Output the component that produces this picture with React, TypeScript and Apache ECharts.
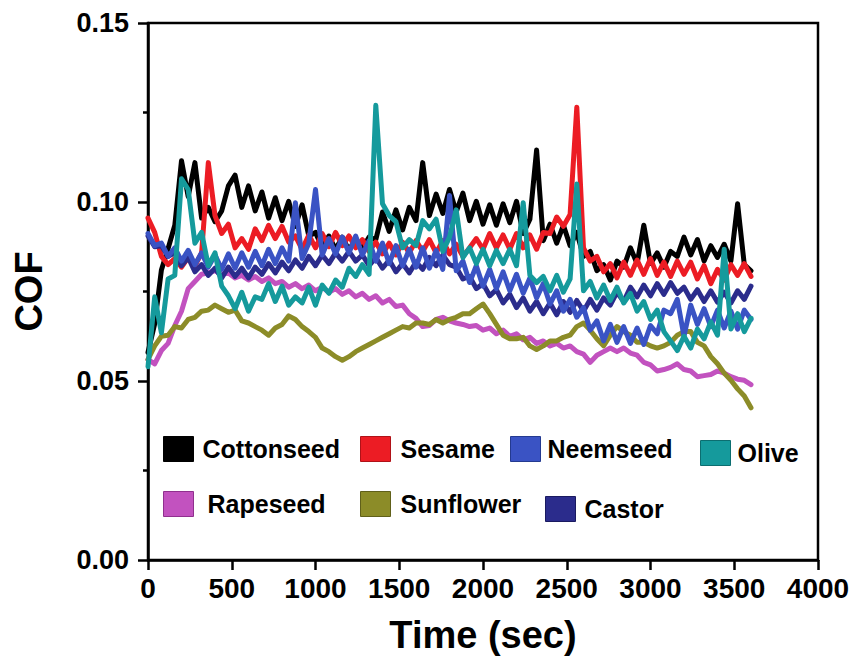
import React, { useEffect, useRef } from "react";
import * as echarts from "echarts";

// time step of the sampled curves (seconds); samples at 0, 40, ..., 3600
const timeStep = 40;

const seriesNames = ["Cottonseed", "Sesame", "Neemseed", "Olive", "Rapeseed", "Sunflower", "Castor"];
const seriesColors = ["#000000", "#ec1c24", "#3a53c4", "#159a9c", "#c252bf", "#8c8c28", "#2b2c8c"];
const seriesBorders = ["#000000", "#b01218", "#243a90", "#0c6e70", "#90308e", "#60601a", "#1a1a60"];

const cottonseed = [
  0.058, 0.066, 0.081, 0.087, 0.0935, 0.1115, 0.1015, 0.111, 0.0955, 0.0985,
  0.0945, 0.0975, 0.1045, 0.1075, 0.0985, 0.1045, 0.0975, 0.1028, 0.0955, 0.1012,
  0.0948, 0.1002, 0.0932, 0.0992, 0.0905, 0.0915, 0.0872, 0.0905, 0.0868, 0.0902,
  0.0865, 0.0898, 0.087, 0.0902, 0.0895, 0.0972, 0.0918, 0.0978, 0.0922, 0.0985,
  0.0948, 0.111, 0.0962, 0.1022, 0.0968, 0.1035, 0.0972, 0.1025, 0.0948, 0.1002,
  0.0938, 0.0992, 0.0935, 0.0995, 0.0942, 0.1002, 0.0912, 0.0952, 0.1145, 0.0892,
  0.0938, 0.0885, 0.0935, 0.0878, 0.0915, 0.0848, 0.0862, 0.0808, 0.0825, 0.0782,
  0.0835, 0.0818, 0.0872, 0.0828, 0.0935, 0.0828, 0.0858, 0.0818, 0.0862, 0.0848,
  0.0902, 0.0852, 0.0895, 0.0835, 0.0878, 0.0845, 0.0882, 0.0835, 0.0995, 0.0825,
  0.0808,
];

const sesame = [
  0.0955, 0.0915, 0.0848, 0.0825, 0.0842, 0.0818, 0.0845, 0.0822, 0.0858, 0.111,
  0.0962, 0.0912, 0.0938, 0.0872, 0.0898, 0.0868, 0.0925, 0.0892, 0.0935, 0.0898,
  0.0932, 0.0888, 0.0905, 0.0868, 0.0908, 0.0872, 0.0912, 0.0875, 0.0915, 0.0878,
  0.0905, 0.0872, 0.0895, 0.0862, 0.0888, 0.0855, 0.0885, 0.0852, 0.0888, 0.0858,
  0.0892, 0.0862, 0.0895, 0.0858, 0.0892, 0.0855, 0.0882, 0.0848, 0.0872, 0.0898,
  0.0868, 0.0912, 0.0872, 0.0908, 0.0868, 0.0912, 0.0872, 0.0908, 0.0868, 0.0915,
  0.0912, 0.0958, 0.0932, 0.0965, 0.1265, 0.0872, 0.0835, 0.0848, 0.0805, 0.0828,
  0.0788, 0.0832, 0.0795, 0.0838, 0.0798, 0.0842, 0.0795, 0.0832, 0.0792, 0.0835,
  0.0798, 0.0832, 0.0785, 0.0822, 0.0772, 0.0812, 0.0782, 0.0825, 0.0795, 0.0828,
  0.0792,
];

const neemseed = [
  0.0912, 0.0878, 0.0885, 0.0848, 0.0872, 0.0835, 0.0865, 0.0825, 0.0858, 0.0818,
  0.0852, 0.0812, 0.0855, 0.0815, 0.0858, 0.0818, 0.0862, 0.0822, 0.0868, 0.0828,
  0.0872, 0.0835, 0.0998, 0.0842, 0.0885, 0.1035, 0.0852, 0.0898, 0.0855, 0.0902,
  0.0858, 0.0905, 0.0852, 0.0892, 0.0835, 0.0885, 0.0828, 0.0878, 0.0822, 0.0868,
  0.0818, 0.0872, 0.0815, 0.0865, 0.0812, 0.1018, 0.0808, 0.0835, 0.0775, 0.0822,
  0.0765, 0.0812, 0.0758, 0.0805, 0.0752, 0.0798, 0.0745, 0.0788, 0.0732, 0.0772,
  0.0715, 0.0752, 0.0695, 0.0728, 0.0678, 0.0705, 0.0642, 0.0668, 0.0612, 0.0658,
  0.0608, 0.0652, 0.0605, 0.0648, 0.0602, 0.0655, 0.0632, 0.0698, 0.0688, 0.0728,
  0.0625, 0.0712, 0.0658, 0.0702, 0.0652, 0.0698, 0.0648, 0.0695, 0.0645, 0.0698,
  0.0672,
];

const olive = [
  0.054, 0.0735, 0.0635, 0.0785, 0.0795, 0.1065, 0.1035, 0.0885, 0.0915, 0.0822,
  0.0858, 0.0765, 0.0738, 0.0702, 0.0748, 0.0695, 0.0735, 0.0728, 0.0772, 0.0722,
  0.0765, 0.0712, 0.0735, 0.0718, 0.0762, 0.0712, 0.0768, 0.0745, 0.0782, 0.0762,
  0.0815, 0.0792, 0.0825, 0.0798, 0.127, 0.0995, 0.0962, 0.0945, 0.0872, 0.0895,
  0.0878, 0.0948, 0.0925, 0.0952, 0.0862, 0.0902, 0.0978, 0.0845, 0.0872, 0.0828,
  0.0868, 0.0822, 0.0865, 0.0828, 0.0868, 0.0822, 0.0998, 0.0795, 0.0775, 0.0792,
  0.0752, 0.0795, 0.0748, 0.0785, 0.105, 0.0752, 0.0778, 0.0732, 0.0768, 0.0725,
  0.0762, 0.0718, 0.0745, 0.0695, 0.0722, 0.0672, 0.0698, 0.0638, 0.0612, 0.0585,
  0.0625, 0.0592, 0.0645, 0.0618, 0.0665, 0.0628, 0.0868, 0.0645, 0.0688, 0.0638,
  0.0675,
];

const rapeseed = [
  0.056, 0.0548, 0.0585, 0.0605, 0.0655, 0.0695, 0.0758, 0.0778, 0.0798, 0.0802,
  0.0808, 0.0798, 0.0802, 0.0788, 0.0795, 0.0782, 0.0792, 0.0778, 0.0788, 0.0772,
  0.0778, 0.0762, 0.0772, 0.0758, 0.0768, 0.0752, 0.0762, 0.0748, 0.0758, 0.0742,
  0.0752, 0.0735, 0.0745, 0.0728, 0.0738, 0.0718, 0.0728, 0.0708, 0.0712, 0.0688,
  0.0675, 0.0652, 0.0655, 0.0672, 0.0678, 0.0668, 0.0662, 0.0658, 0.0652, 0.0655,
  0.0642, 0.0648, 0.0632, 0.0642, 0.0625, 0.0632, 0.0615, 0.0622, 0.0605, 0.0612,
  0.0598, 0.0605, 0.0592, 0.0598, 0.0582, 0.0575, 0.0552, 0.0572, 0.0582, 0.0592,
  0.0582, 0.0592, 0.0578, 0.0572, 0.0552, 0.0545, 0.0528, 0.0532, 0.0538, 0.0548,
  0.0532, 0.0528, 0.0512, 0.0515, 0.0518, 0.0528, 0.0522, 0.0512, 0.0505, 0.0502,
  0.049,
];

const sunflower = [
  0.056, 0.0598, 0.0625, 0.0628, 0.0652, 0.0648, 0.0672, 0.0678, 0.0695, 0.0698,
  0.0712, 0.0702, 0.0692, 0.0698, 0.0668, 0.0662, 0.0652, 0.0642, 0.0628, 0.0648,
  0.0658, 0.0682, 0.0672, 0.0652, 0.0638, 0.0622, 0.0592, 0.0582, 0.0568, 0.0558,
  0.0568, 0.0582, 0.0592, 0.0602, 0.0612, 0.0622, 0.0632, 0.0642, 0.0652, 0.0648,
  0.0662, 0.0662, 0.0658, 0.0672, 0.0662, 0.0672, 0.0678, 0.0688, 0.0688, 0.0702,
  0.0715, 0.0688, 0.0658, 0.0628, 0.0618, 0.0618, 0.0622, 0.0598, 0.0588, 0.0598,
  0.0612, 0.0612, 0.0622, 0.0628, 0.0652, 0.0662, 0.0642, 0.0618, 0.0598, 0.0628,
  0.0652, 0.0638, 0.0628, 0.0608, 0.0608, 0.0598, 0.0592, 0.0598, 0.0608, 0.0628,
  0.0638, 0.0638, 0.0608, 0.0598, 0.0568, 0.0548, 0.0522, 0.0502, 0.0478, 0.0458,
  0.0425,
];

const castor = [
  0.0905, 0.0875, 0.0878, 0.0848, 0.0858, 0.0822, 0.0845, 0.0805, 0.0825, 0.0795,
  0.0815, 0.0788, 0.0818, 0.0792, 0.0815, 0.0788, 0.0818, 0.0798, 0.0828, 0.0802,
  0.0832, 0.0808, 0.0838, 0.0815, 0.0848, 0.0822, 0.0852, 0.0828, 0.0858, 0.0835,
  0.0862, 0.0835, 0.0852, 0.0822, 0.0845, 0.0815, 0.0838, 0.0805, 0.0828, 0.0802,
  0.0832, 0.0812, 0.0845, 0.0822, 0.0852, 0.0825, 0.0818, 0.0785, 0.0792, 0.0758,
  0.0772, 0.0738, 0.0755, 0.0718, 0.0742, 0.0705, 0.0732, 0.0695, 0.0722, 0.0688,
  0.0718, 0.0685, 0.0722, 0.0692, 0.0725, 0.0695, 0.0728, 0.0698, 0.0732, 0.0712,
  0.0748, 0.0722, 0.0762, 0.0735, 0.0768, 0.0738, 0.0772, 0.0742, 0.0775, 0.0745,
  0.0762, 0.0728, 0.0755, 0.0722, 0.0752, 0.072, 0.0748, 0.0718, 0.0752, 0.0728,
  0.0765,
];

const seriesValues = [cottonseed, sesame, neemseed, olive, rapeseed, sunflower, castor];
// drawing order (z) — higher drawn on top
const seriesZ = [2, 3, 6, 7, 4, 5, 5.5];

const xTicks = { min: 0, max: 4000, interval: 500 };
const yTicks = { min: 0, max: 0.15, interval: 0.05 };

// legend placement: [left, top, text padding]
const legendPlaces: [number, number, number][] = [
  [163, 436, 4],
  [360, 436, 5],
  [510, 436, 2],
  [700, 440, 2],
  [163, 491, 9],
  [360, 491, 5],
  [545, 496, 4],
];

const FONT = "'Liberation Sans', Arial, Helvetica, sans-serif";

export default function App() {
  const ref = useRef<HTMLDivElement>(null);
  useEffect(() => {
    if (!ref.current) return;
    const chart = echarts.init(ref.current, undefined, { renderer: "svg" });
    const series = seriesNames.map((name, k) => ({
      name,
      type: "line",
      data: seriesValues[k].map((v, i) => [i * timeStep, v]),
      showSymbol: false,
      symbol: "none",
      z: seriesZ[k],
      lineStyle: { color: seriesColors[k], width: 5, join: "round", cap: "round" },
      itemStyle: { color: seriesColors[k] },
    }));
    const legends = seriesNames.map((name, k) => ({
      show: true,
      left: legendPlaces[k][0],
      top: legendPlaces[k][1],
      padding: 0,
      itemWidth: 30,
      itemHeight: 25,
      icon: "rect",
      selectedMode: false,
      data: [
        {
          name,
          icon: "rect",
          itemStyle: { color: seriesColors[k], borderColor: seriesBorders[k], borderWidth: 1 },
        },
      ],
      textStyle: {
        fontFamily: FONT,
        fontWeight: "bold",
        fontSize: 25,
        color: "#000",
        padding: [0, 0, 0, legendPlaces[k][2]],
      },
    }));
    chart.setOption({
      animation: false,
      backgroundColor: "#fff",
      grid: {
        left: 148,
        right: 37,
        top: 23,
        bottom: 104,
        show: true,
        borderColor: "#000",
        borderWidth: 2.5,
        backgroundColor: "transparent",
      },
      legend: legends,
      xAxis: {
        type: "value",
        min: xTicks.min,
        max: xTicks.max,
        interval: xTicks.interval,
        name: "Time (sec)",
        nameLocation: "middle",
        nameGap: 56,
        nameTextStyle: { fontFamily: FONT, fontWeight: "bold", fontSize: 38, color: "#000" },
        axisLine: { show: true, lineStyle: { color: "#000", width: 2.5 } },
        axisTick: { show: true, inside: false, length: 10, lineStyle: { color: "#000", width: 2.5 } },
        axisLabel: {
          fontFamily: FONT,
          fontWeight: "bold",
          fontSize: 28,
          color: "#000",
          margin: 14,
          formatter: (v: number) => String(v),
        },
        splitLine: { show: false },
      },
      yAxis: {
        type: "value",
        min: yTicks.min,
        max: yTicks.max,
        interval: yTicks.interval,
        name: "COF",
        nameLocation: "middle",
        nameGap: 100,
        nameRotate: 90,
        nameTextStyle: { fontFamily: FONT, fontWeight: "bold", fontSize: 38, color: "#000" },
        axisLine: { show: true, lineStyle: { color: "#000", width: 2.5 } },
        axisTick: { show: true, inside: false, length: 10, lineStyle: { color: "#000", width: 2.5 } },
        minorTick: { show: true, splitNumber: 2, length: 5, lineStyle: { color: "#000", width: 2.5 } },
        axisLabel: {
          fontFamily: FONT,
          fontWeight: "bold",
          fontSize: 27,
          color: "#000",
          margin: 19,
          formatter: (v: number) => v.toFixed(2),
        },
        splitLine: { show: false },
      },
      series,
    });
    return () => chart.dispose();
  }, []);
  return (
    <div
      ref={ref}
      style={{ position: "fixed", left: 0, top: 0, width: 855, height: 664, background: "#fff" }}
    />
  );
}
